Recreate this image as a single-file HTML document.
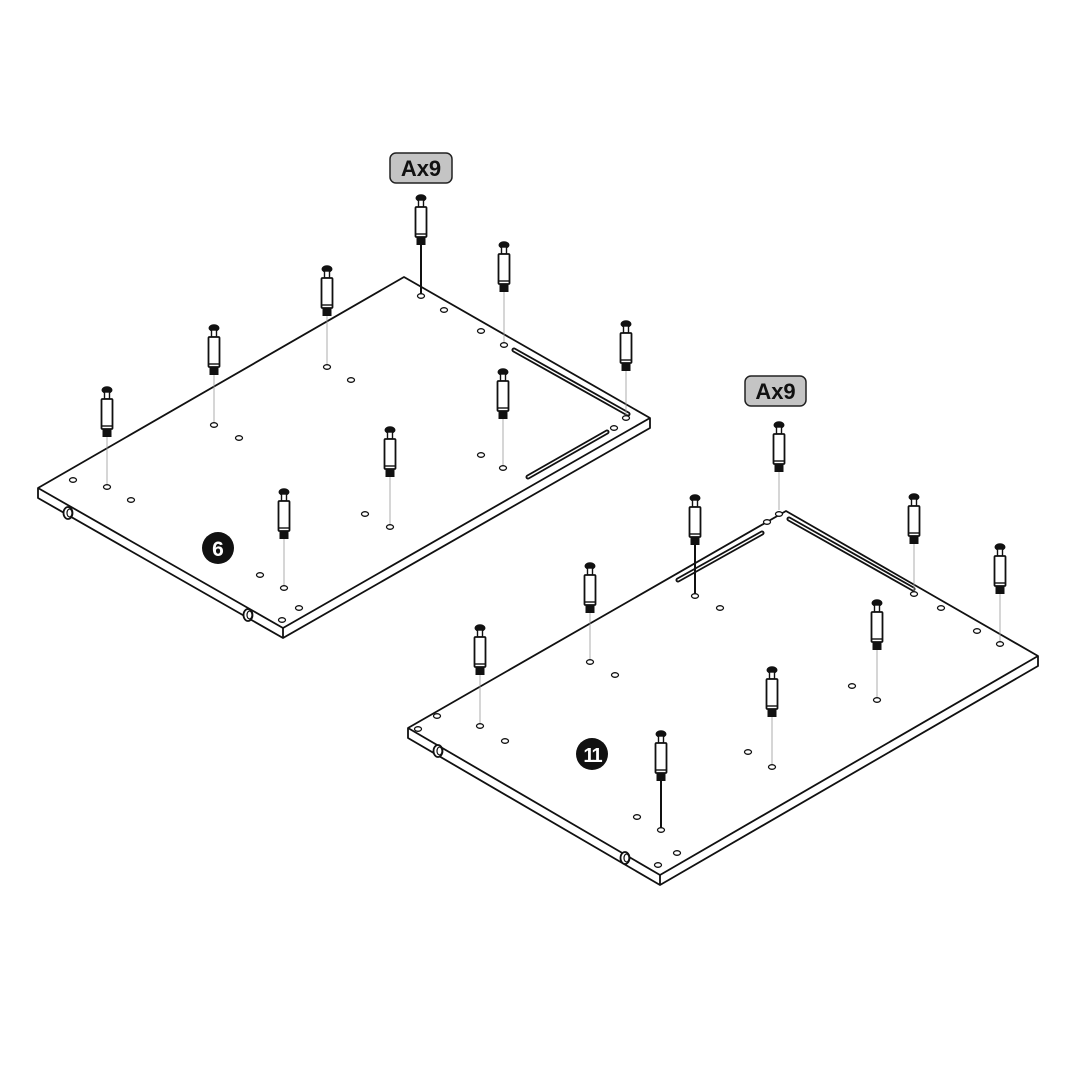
<!DOCTYPE html>
<html><head><style>body{margin:0;background:#fff}svg{display:block}</style></head><body>
<svg width="1080" height="1080" viewBox="0 0 1080 1080" xmlns="http://www.w3.org/2000/svg">
<defs>
<g id="s">
<ellipse cx="0" cy="2" rx="5.5" ry="3.8" fill="#111"/>
<rect x="-2.5" y="4" width="5" height="7" fill="#fff" stroke="#111" stroke-width="1.4"/>
<rect x="-5.5" y="11" width="11" height="30" rx="1" fill="#fff" stroke="#111" stroke-width="1.8"/>
<line x1="-5.5" y1="38" x2="5.5" y2="38" stroke="#111" stroke-width="1.4"/>
<rect x="-4.5" y="41" width="9" height="8" fill="#111"/>
</g>
<g id="h"><ellipse cx="0" cy="0" rx="3.5" ry="2.3" fill="#fff" stroke="#111" stroke-width="1.3"/></g>
<g id="d"><ellipse cx="0" cy="0" rx="4.5" ry="6" fill="#fff" stroke="#111" stroke-width="1.8"/><ellipse cx="1.5" cy="0" rx="2.5" ry="4" fill="none" stroke="#111" stroke-width="1.2"/></g>
</defs>
<g fill="#fff" stroke="#111" stroke-width="1.8" stroke-linejoin="round">
<polygon points="404,277 650,418 650,428 283,638 38,498 38,488"/>
<polyline points="38,488 283,628 650,418" fill="none"/>
<line x1="283" y1="628" x2="283" y2="638"/>
<polygon points="786,511 1038,656 1038,666 660,885 408,738 408,728"/>
<polyline points="408,728 660,875 1038,656" fill="none"/>
<line x1="660" y1="875" x2="660" y2="885"/>
</g>
<g stroke="#111" stroke-width="5" stroke-linecap="round"><line x1="514" y1="350" x2="628" y2="414"/><line x1="528" y1="477" x2="607" y2="432"/><line x1="678" y1="580" x2="762" y2="533"/><line x1="789" y1="519" x2="913" y2="589"/></g>
<g stroke="#fff" stroke-width="1.3" stroke-linecap="round"><line x1="514" y1="350" x2="628" y2="414"/><line x1="528" y1="477" x2="607" y2="432"/><line x1="678" y1="580" x2="762" y2="533"/><line x1="789" y1="519" x2="913" y2="589"/></g>
<use href="#d" x="68" y="513"/><use href="#d" x="248" y="615"/><use href="#d" x="438" y="751"/><use href="#d" x="625" y="858"/>
<g stroke="#999" stroke-width="0.8">
<line x1="504" y1="290" x2="504" y2="345"/><line x1="626" y1="370" x2="626" y2="418"/><line x1="327" y1="315" x2="327" y2="367"/><line x1="214" y1="374" x2="214" y2="425"/><line x1="107" y1="436" x2="107" y2="487"/><line x1="503" y1="418" x2="503" y2="468"/><line x1="390" y1="476" x2="390" y2="527"/><line x1="284" y1="538" x2="284" y2="588"/>
<line x1="779" y1="471" x2="779" y2="510"/><line x1="914" y1="543" x2="914" y2="594"/><line x1="1000" y1="593" x2="1000" y2="644"/><line x1="877" y1="649" x2="877" y2="700"/><line x1="772" y1="716" x2="772" y2="767"/><line x1="590" y1="612" x2="590" y2="662"/><line x1="480" y1="674" x2="480" y2="726"/>
</g>
<g stroke="#111" stroke-width="2"><line x1="421" y1="245" x2="421" y2="296"/><line x1="695" y1="544" x2="695" y2="596"/><line x1="661" y1="780" x2="661" y2="830"/></g>
<g>
<use href="#h" x="421" y="296"/><use href="#h" x="504" y="345"/><use href="#h" x="626" y="418"/><use href="#h" x="327" y="367"/><use href="#h" x="214" y="425"/><use href="#h" x="107" y="487"/><use href="#h" x="503" y="468"/><use href="#h" x="390" y="527"/><use href="#h" x="284" y="588"/>
<use href="#h" x="444" y="310"/><use href="#h" x="481" y="331"/><use href="#h" x="351" y="380"/><use href="#h" x="239" y="438"/><use href="#h" x="131" y="500"/><use href="#h" x="73" y="480"/><use href="#h" x="481" y="455"/><use href="#h" x="365" y="514"/><use href="#h" x="260" y="575"/><use href="#h" x="299" y="608"/><use href="#h" x="282" y="620"/><use href="#h" x="614" y="428"/>
<use href="#h" x="779" y="514"/><use href="#h" x="767" y="522"/><use href="#h" x="695" y="596"/><use href="#h" x="914" y="594"/><use href="#h" x="1000" y="644"/><use href="#h" x="877" y="700"/><use href="#h" x="772" y="767"/><use href="#h" x="590" y="662"/><use href="#h" x="480" y="726"/><use href="#h" x="661" y="830"/>
<use href="#h" x="720" y="608"/><use href="#h" x="941" y="608"/><use href="#h" x="977" y="631"/><use href="#h" x="852" y="686"/><use href="#h" x="748" y="752"/><use href="#h" x="615" y="675"/><use href="#h" x="505" y="741"/><use href="#h" x="437" y="716"/><use href="#h" x="418" y="729"/><use href="#h" x="637" y="817"/><use href="#h" x="677" y="853"/><use href="#h" x="658" y="865"/>
</g>
<g>
<use href="#s" x="421" y="196"/><use href="#s" x="504" y="243"/><use href="#s" x="626" y="322"/><use href="#s" x="327" y="267"/><use href="#s" x="214" y="326"/><use href="#s" x="107" y="388"/><use href="#s" x="503" y="370"/><use href="#s" x="390" y="428"/><use href="#s" x="284" y="490"/>
<use href="#s" x="779" y="423"/><use href="#s" x="695" y="496"/><use href="#s" x="914" y="495"/><use href="#s" x="1000" y="545"/><use href="#s" x="877" y="601"/><use href="#s" x="772" y="668"/><use href="#s" x="590" y="564"/><use href="#s" x="480" y="626"/><use href="#s" x="661" y="732"/>
</g>
<g font-family="Liberation Sans, sans-serif" font-weight="bold">
<rect x="390" y="153" width="62" height="30" rx="6" fill="#c4c4c4" stroke="#222" stroke-width="1.5"/>
<text x="421" y="176" font-size="22" text-anchor="middle" fill="#111">Ax9</text>
<rect x="745" y="376" width="61" height="30" rx="6" fill="#c4c4c4" stroke="#222" stroke-width="1.5"/>
<text x="775.5" y="399" font-size="22" text-anchor="middle" fill="#111">Ax9</text>
<circle cx="218" cy="548" r="16" fill="#111"/>
<text x="218" y="556" font-size="21" text-anchor="middle" fill="#fff">6</text>
<circle cx="592" cy="754" r="16" fill="#111"/>
<text x="592" y="762" font-size="20" text-anchor="middle" fill="#fff" letter-spacing="-2">11</text>
</g>
</svg>
</body></html>
